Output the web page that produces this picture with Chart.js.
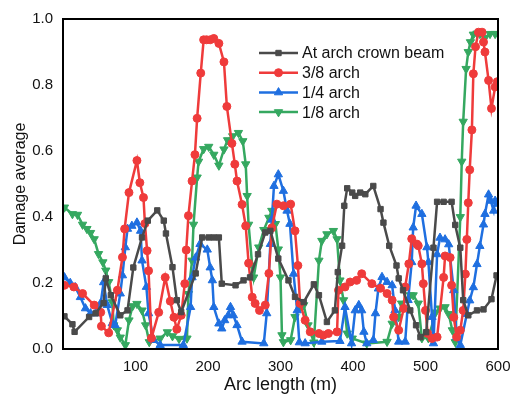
<!DOCTYPE html>
<html>
<head>
<meta charset="utf-8">
<script src="https://cdn.jsdelivr.net/npm/chart.js@4.4.1/dist/chart.umd.min.js"></script>
<style>
    html, body { margin: 0; padding: 0; background: #fff; }
    #wrap { width: 511px; height: 400px; position: relative; }
</style>
</head>
<body>
<div id="wrap"><canvas id="chart"></canvas></div>
<script>
    const seriesNames = ['At arch crown beam', '3/8 arch', '1/4 arch', '1/8 arch'];

    const crownX = [2, 13, 16, 36, 45, 56, 59, 66, 79, 89, 97, 109, 117, 130, 139, 142, 151, 157, 163, 183, 192, 201, 208, 215, 219, 238, 249, 258, 269, 279, 286, 297, 311, 320, 332, 346, 353, 364, 375, 379, 385, 388, 392, 399, 403, 410, 417, 428, 438, 442, 450, 460, 463, 469, 479, 487, 493, 501, 511, 516, 525, 536, 541, 548, 552, 559, 571, 580, 591, 598];
    const crownY = [0.099, 0.075, 0.052, 0.097, 0.108, 0.139, 0.214, 0.163, 0.102, 0.117, 0.247, 0.338, 0.389, 0.42, 0.389, 0.35, 0.248, 0.148, 0.112, 0.229, 0.338, 0.338, 0.338, 0.338, 0.198, 0.193, 0.208, 0.217, 0.287, 0.353, 0.358, 0.274, 0.208, 0.158, 0.142, 0.196, 0.163, 0.082, 0.117, 0.233, 0.313, 0.434, 0.487, 0.474, 0.464, 0.474, 0.469, 0.494, 0.424, 0.383, 0.313, 0.253, 0.214, 0.178, 0.117, 0.072, 0.036, 0.051, 0.307, 0.446, 0.446, 0.446, 0.376, 0.307, 0.148, 0.102, 0.117, 0.12, 0.151, 0.223];

    const arch38X = [2, 15, 27, 43, 52, 53, 63, 75, 82, 85, 91, 102, 106, 111, 113, 116, 118, 122, 132, 141, 148, 153, 157, 163, 168, 170, 173, 178, 182, 185, 190, 194, 198, 203, 208, 215, 222, 226, 233, 237, 240, 247, 252, 256, 261, 265, 271, 279, 284, 288, 295, 304, 314, 320, 324, 327, 334, 341, 353, 359, 366, 378, 380, 389, 396, 405, 412, 426, 438, 447, 454, 456, 463, 470, 472, 477, 481, 488, 490, 495, 497, 500, 503, 509, 516, 525, 527, 534, 536, 539, 543, 548, 552, 555, 557, 559, 561, 564, 566, 569, 573, 578, 580, 582, 587, 591, 596, 599];
    const arch38Y = [0.193, 0.188, 0.168, 0.133, 0.111, 0.069, 0.049, 0.178, 0.278, 0.364, 0.474, 0.571, 0.504, 0.459, 0.38, 0.298, 0.237, 0.033, 0.111, 0.217, 0.145, 0.096, 0.06, 0.102, 0.198, 0.3, 0.404, 0.509, 0.589, 0.699, 0.836, 0.937, 0.937, 0.937, 0.941, 0.926, 0.87, 0.735, 0.623, 0.56, 0.509, 0.438, 0.373, 0.26, 0.157, 0.138, 0.117, 0.133, 0.229, 0.367, 0.439, 0.434, 0.439, 0.358, 0.253, 0.138, 0.087, 0.052, 0.047, 0.042, 0.047, 0.052, 0.178, 0.188, 0.203, 0.208, 0.228, 0.198, 0.184, 0.168, 0.148, 0.097, 0.057, 0.123, 0.188, 0.258, 0.334, 0.318, 0.313, 0.258, 0.198, 0.117, 0.047, 0.032, 0.036, 0.217, 0.282, 0.277, 0.193, 0.096, 0.036, 0.057, 0.117, 0.227, 0.332, 0.443, 0.543, 0.664, 0.834, 0.916, 0.96, 0.96, 0.93, 0.9, 0.814, 0.729, 0.794, 0.81];

    const arch14X = [2, 10, 17, 24, 31, 38, 45, 52, 56, 61, 68, 72, 79, 82, 86, 89, 95, 102, 107, 109, 115, 118, 125, 134, 166, 176, 178, 183, 189, 199, 203, 206, 208, 215, 219, 223, 228, 231, 235, 240, 247, 277, 281, 286, 288, 291, 297, 304, 309, 313, 318, 323, 326, 334, 357, 382, 389, 398, 403, 408, 412, 415, 419, 428, 431, 435, 440, 447, 454, 458, 463, 472, 476, 481, 483, 487, 495, 502, 504, 509, 511, 516, 520, 527, 532, 539, 543, 548, 557, 561, 566, 571, 575, 580, 582, 587, 590, 594, 596, 600];
    const arch14Y = [0.217, 0.2, 0.187, 0.157, 0.123, 0.108, 0.108, 0.139, 0.202, 0.133, 0.078, 0.072, 0.168, 0.223, 0.308, 0.364, 0.373, 0.383, 0.358, 0.268, 0.188, 0.108, 0.027, 0.012, 0.012, 0.127, 0.217, 0.277, 0.318, 0.301, 0.247, 0.208, 0.127, 0.077, 0.062, 0.087, 0.102, 0.127, 0.102, 0.072, 0.022, 0.017, 0.108, 0.318, 0.392, 0.494, 0.529, 0.479, 0.419, 0.379, 0.228, 0.117, 0.02, 0.017, 0.022, 0.024, 0.127, 0.017, 0.117, 0.133, 0.117, 0.052, 0.017, 0.027, 0.108, 0.183, 0.218, 0.203, 0.193, 0.117, 0.022, 0.022, 0.148, 0.263, 0.368, 0.434, 0.409, 0.308, 0.263, 0.097, 0.017, 0.287, 0.337, 0.332, 0.317, 0.178, 0.036, 0.012, 0.106, 0.147, 0.187, 0.257, 0.312, 0.377, 0.409, 0.468, 0.449, 0.419, 0.449, 0.44];

    const arch18X = [2, 13, 20, 27, 33, 38, 43, 49, 55, 59, 63, 68, 70, 75, 79, 86, 91, 96, 102, 109, 114, 119, 134, 144, 151, 160, 171, 173, 178, 180, 185, 187, 194, 201, 208, 215, 222, 227, 234, 242, 248, 252, 254, 256, 261, 263, 270, 277, 284, 288, 293, 297, 300, 302, 304, 314, 320, 327, 332, 338, 346, 353, 357, 364, 373, 378, 382, 387, 392, 399, 419, 447, 454, 463, 467, 479, 483, 490, 495, 504, 514, 520, 527, 532, 537, 541, 548, 550, 552, 556, 559, 562, 566, 571, 575, 582, 589, 596, 600];
    const arch18Y = [0.429, 0.409, 0.407, 0.377, 0.364, 0.352, 0.333, 0.288, 0.263, 0.238, 0.203, 0.142, 0.072, 0.057, 0.035, 0.012, 0.087, 0.13, 0.137, 0.117, 0.072, 0.021, 0.032, 0.051, 0.039, 0.031, 0.032, 0.167, 0.268, 0.377, 0.52, 0.568, 0.606, 0.613, 0.589, 0.556, 0.605, 0.633, 0.645, 0.655, 0.63, 0.56, 0.464, 0.377, 0.253, 0.217, 0.308, 0.361, 0.398, 0.419, 0.379, 0.302, 0.217, 0.042, 0.021, 0.027, 0.097, 0.127, 0.133, 0.072, 0.02, 0.268, 0.328, 0.348, 0.358, 0.333, 0.208, 0.148, 0.047, 0.032, 0.017, 0.022, 0.077, 0.097, 0.138, 0.163, 0.163, 0.138, 0.033, 0.033, 0.111, 0.123, 0.127, 0.106, 0.057, 0.021, 0.4, 0.568, 0.689, 0.849, 0.9, 0.93, 0.953, 0.956, 0.955, 0.943, 0.955, 0.955, 0.955];

    const xTicks = [100, 200, 300, 400, 500, 600];
    const yTicks = [0, 0.2, 0.4, 0.6, 0.8, 1.0];

    const FONT = '"Liberation Sans", Arial, sans-serif';

    function toPoints(xs, ys) {
        return xs.map(function (x, i) { return { x: x, y: ys[i] }; });
    }

    function makeSet(label, xs, ys, color, style, rotation, radius) {
        return {
            label: label,
            data: toPoints(xs, ys),
            borderColor: color,
            backgroundColor: color,
            borderWidth: 2.5,
            pointStyle: style,
            rotation: rotation,
            pointRadius: radius,
            pointBorderWidth: 1,
            tension: 0
        };
    }

    const datasets = [
        makeSet(seriesNames[0], crownX, crownY, '#4a4a4a', 'rect', 0, 3.8),
        makeSet(seriesNames[1], arch38X, arch38Y, '#ef3b3b', 'circle', 0, 4),
        makeSet(seriesNames[2], arch14X, arch14Y, '#1f6fe0', 'triangle', 0, 4.8),
        makeSet(seriesNames[3], arch18X, arch18Y, '#35a860', 'triangle', 180, 4.8)
    ];

    // frame round the plot area
    const framePlugin = {
        id: 'frame',
        afterDatasetsDraw: function (chart) {
            const a = chart.chartArea;
            const ctx = chart.ctx;
            ctx.save();
            ctx.strokeStyle = '#000';
            ctx.lineWidth = 2;
            ctx.strokeRect(a.left, a.top, a.right - a.left, a.bottom - a.top);
            ctx.restore();
        }
    };

    // legend drawn inside the plot, line + marker like the original
    const legendPlugin = {
        id: 'inlineLegend',
        afterDraw: function (chart) {
            const ctx = chart.ctx;
            const x0 = 259, x1 = 298, top = 53, step = 19.7;
            ctx.save();
            chart.data.datasets.forEach(function (ds, i) {
                const y = top + i * step;
                ctx.strokeStyle = ds.borderColor;
                ctx.lineWidth = 2.5;
                ctx.beginPath();
                ctx.moveTo(x0, y);
                ctx.lineTo(x1, y);
                ctx.stroke();
                ctx.fillStyle = ds.backgroundColor;
                ctx.strokeStyle = ds.borderColor;
                ctx.lineWidth = 1;
                Chart.helpers.drawPoint(ctx, {
                    pointStyle: ds.pointStyle,
                    rotation: ds.rotation,
                    radius: ds.pointRadius,
                    borderWidth: 1
                }, (x0 + x1) / 2, y);
                ctx.fillStyle = '#111';
                ctx.font = '16px ' + FONT;
                ctx.textBaseline = 'middle';
                ctx.textAlign = 'left';
                ctx.fillText(ds.label, x1 + 4, y + 1);
            });
            ctx.restore();
        }
    };

    new Chart(document.getElementById('chart').getContext('2d'), {
        type: 'line',
        data: { datasets: datasets },
        options: {
            responsive: true,
            maintainAspectRatio: false,
            animation: false,
            layout: { padding: { top: 17, right: 0, left: 0, bottom: 0 } },
            plugins: {
                legend: { display: false },
                tooltip: { enabled: false }
            },
            scales: {
                x: {
                    type: 'linear',
                    min: 0,
                    max: 600,
                    afterFit: function (scale) {
                        scale.height = 51;
                        scale.paddingRight = 13;
                    },
                    afterBuildTicks: function (scale) {
                        scale.ticks = xTicks.map(function (v) { return { value: v }; });
                    },
                    grid: { display: false, drawTicks: false },
                    border: { display: false },
                    ticks: {
                        color: '#111',
                        padding: 9,
                        maxRotation: 0,
                        font: { family: FONT, size: 15 },
                        callback: function (v) { return String(v); }
                    },
                    title: {
                        display: true,
                        text: 'Arc length (m)',
                        color: '#111',
                        font: { family: FONT, size: 18 },
                        padding: { top: 0, bottom: 4 }
                    }
                },
                y: {
                    min: 0,
                    max: 1,
                    afterFit: function (scale) { scale.width = 63; },
                    afterBuildTicks: function (scale) {
                        scale.ticks = yTicks.map(function (v) { return { value: v }; });
                    },
                    grid: { display: false, drawTicks: false },
                    border: { display: false },
                    ticks: {
                        color: '#111',
                        padding: 10,
                        font: { family: FONT, size: 15 },
                        callback: function (v) { return Number(v).toFixed(1); }
                    },
                    title: {
                        display: true,
                        text: 'Damage average',
                        color: '#111',
                        font: { family: FONT, size: 16 },
                        padding: { top: 11, bottom: 0 }
                    }
                }
            }
        },
        plugins: [framePlugin, legendPlugin]
    });
</script>
</body>
</html>
